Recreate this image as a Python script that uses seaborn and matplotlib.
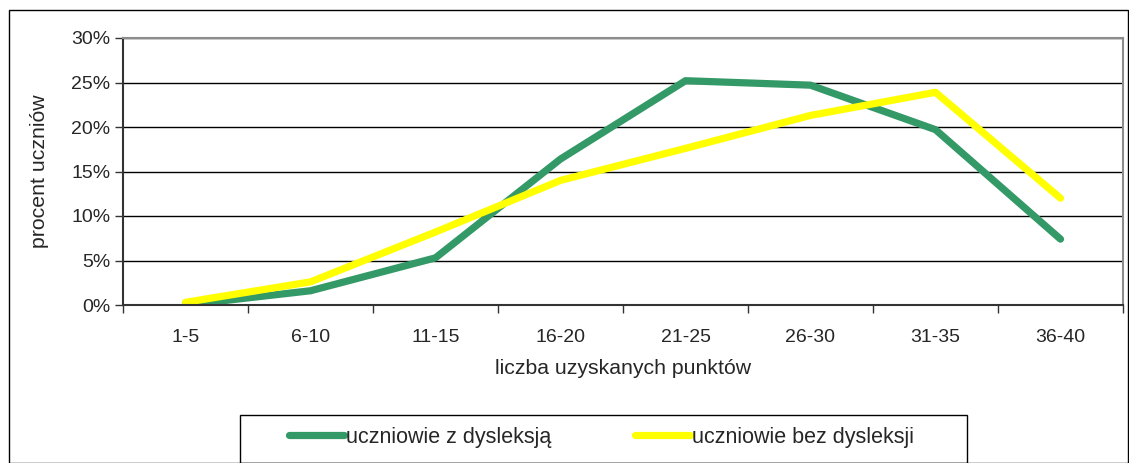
import matplotlib
matplotlib.use("Agg")
import matplotlib.pyplot as plt
import seaborn as sns
import pandas as pd
from matplotlib.patches import Rectangle
from matplotlib.ticker import FuncFormatter

categories = ["1-5", "6-10", "11-15", "16-20", "21-25", "26-30", "31-35", "36-40"]
z_dysleksja = [0.0, 1.6, 5.3, 16.4, 25.2, 24.7, 19.7, 7.4]
bez_dysleksji = [0.3, 2.6, 8.2, 14.0, 17.6, 21.3, 23.9, 12.0]
series_names = ["uczniowie z dysleksją", "uczniowie bez dysleksji"]
colors = ["#339966", "#FFFF00"]

df = pd.DataFrame({
    "kat": categories * 2,
    "val": z_dysleksja + bez_dysleksji,
    "seria": [series_names[0]] * len(categories) + [series_names[1]] * len(categories),
})

sns.set_style("white")
plt.rcParams['font.family'] = ['Liberation Sans', 'DejaVu Sans']

W, H = 1129, 463
fig = plt.figure(figsize=(W / 100, H / 100), dpi=100)
ax = fig.add_axes([123 / W, 1 - 305 / H, 1000 / W, 267 / H])

sns.lineplot(data=df, x="kat", y="val", hue="seria", palette=colors, ax=ax,
             linewidth=5.2, sort=False, legend=False, solid_capstyle="round")

ax.set_xlim(-0.5, len(categories) - 0.5)
ax.set_ylim(0, 30)
ax.set_yticks(range(0, 31, 5))
ax.yaxis.set_major_formatter(FuncFormatter(lambda v, p: f"{int(v)}%"))
ax.grid(axis="y", color="black", linewidth=1)
ax.set_axisbelow(True)

# x: tick marks at category boundaries, labels at centers
ax.set_xticks([i - 0.5 for i in range(len(categories) + 1)])
ax.set_xticklabels([])
ax.set_xticks(range(len(categories)), minor=True)
ax.set_xticklabels(categories, minor=True, fontsize=14)
ax.tick_params(axis="x", which="major", length=6, width=1, color="#333333", direction="out", bottom=True)
ax.tick_params(axis="x", which="minor", length=0, pad=17)
ax.tick_params(axis="y", length=6, width=1, color="#333333", direction="out", left=True, labelsize=14, pad=3)

for s in ["left", "bottom"]:
    ax.spines[s].set_color("#333333")
    ax.spines[s].set_linewidth(1.5)
for s in ["top", "right"]:
    ax.spines[s].set_color("#8c8c8c")
    ax.spines[s].set_linewidth(1.5)

ax.set_xlabel("liczba uzyskanych punktów", fontsize=15.3, labelpad=10)
ax.set_ylabel("procent uczniów", fontsize=15.3, labelpad=16)

# outer frame
fig.patches.append(Rectangle((9 / W, 0), 1 - 9 / W - 0.001, 1 - 10 / H, transform=fig.transFigure,
                             fill=False, edgecolor="black", linewidth=1))
# legend frame
fig.patches.append(Rectangle((240 / W, 0.001), 727 / W, 48 / H, transform=fig.transFigure,
                             fill=False, edgecolor="black", linewidth=1))

handles = [plt.Line2D([], [], color=c, linewidth=5.2, solid_capstyle="round") for c in colors]
leg = fig.legend(handles, series_names, loc="center left",
                 bbox_to_anchor=(289 / W, 1 - 437 / H),
                 ncol=2, fontsize=15.5, frameon=False,
                 handlelength=2.55, handletextpad=0.1, borderaxespad=0, borderpad=0,
                 columnspacing=3.9)

fig.savefig("out.png", dpi=100)
